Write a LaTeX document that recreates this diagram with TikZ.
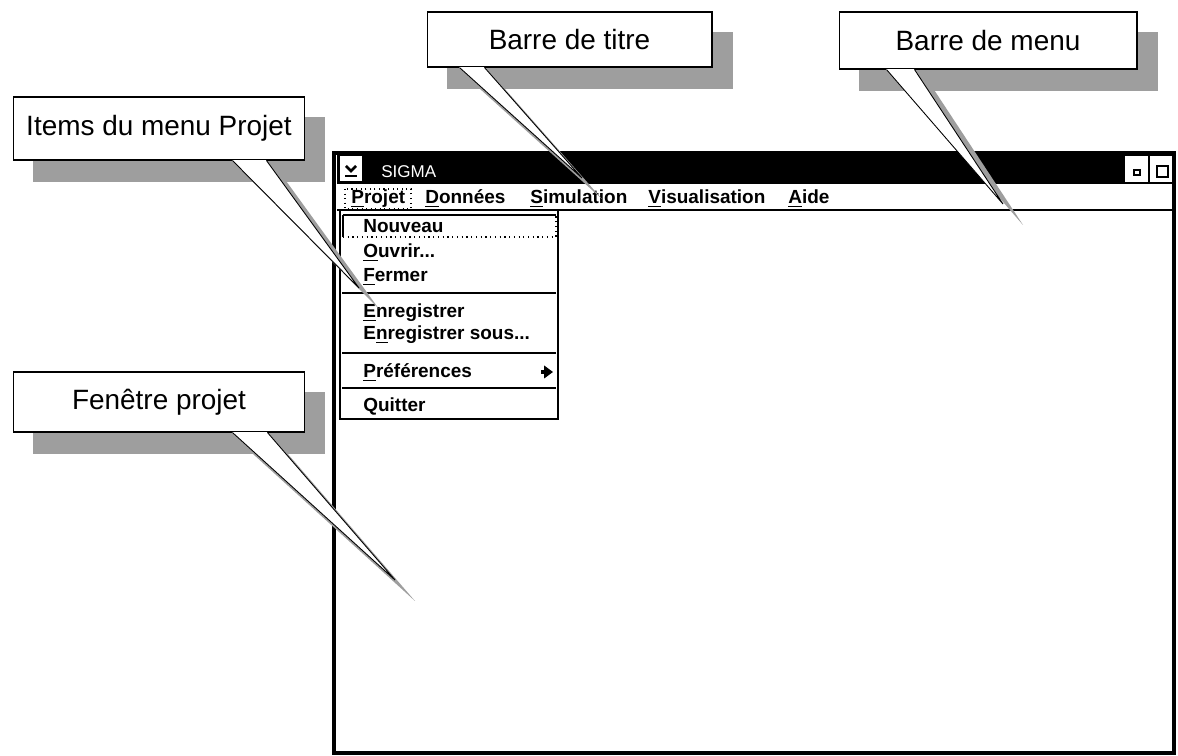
\documentclass[tikz,border=0pt]{standalone}
\usepackage{fontspec}
\setmainfont{Liberation Sans}
\usetikzlibrary{arrows.meta}

\pgfdeclarelayer{shadows}
\pgfdeclarelayer{callouts}
\pgfsetlayers{main,shadows,callouts}

% first letter of a menu entry, underlined as its keyboard shortcut
\newcommand\mn[1]{\underline{#1}}

% callout: name, centre, width, height, left and right foot of the pointer
% (measured from the lower left corner), tip, text
\newcommand\bulle[8]{%
  \begin{pgfonlayer}{callouts}
    \node[calloutbox, minimum width=#3, minimum height=#4] (#1) at #2 {#8};
    \coordinate (#1-tip) at #7;
    \coordinate (#1-l) at ([xshift=#5]#1.south west);
    \coordinate (#1-r) at ([xshift=#6]#1.south west);
    \fill[white] (#1-l) -- (#1-tip) -- (#1-r) -- cycle;
    \draw[white, line width=1pt] (#1-l) -- (#1-r);
    \draw[pointer] (#1-l) -- (#1-tip) -- (#1-r);
  \end{pgfonlayer}
  \begin{pgfonlayer}{shadows}
    \fill[calloutshadow] ([shift={(20,21)}]#1.north west) rectangle ([shift={(20,21)}]#1.south east);
    \fill[calloutshadow] ([shift={(20,21)}]#1-l) -- ([shift={(20,21)}]#1-tip) -- ([shift={(20,21)}]#1-r) -- cycle;
  \end{pgfonlayer}}

\begin{document}
\begin{tikzpicture}[x=0.02cm, y=-0.02cm,
  menuitem/.style={font=\fontsize{10.8}{12}\selectfont\bfseries, inner sep=0pt, anchor=base west},
  calloutbox/.style={draw, line width=0.6pt, fill=white, inner sep=0pt,
                     font=\fontsize{15.9}{18}\selectfont},
  calloutshadow/.style={fill=black!38},
  pointer/.style={line width=0.5pt, line join=miter},
  separator/.style={line width=0.7pt}]

\useasboundingbox (0,0) rectangle (1178,756);

% ---------------- application window ----------------
\draw[line width=0.08cm, fill=white] (334,153) rectangle (1174,753);

% title bar
\fill[black] (337,155) rectangle (1172,183);
% system menu box
\fill[white] (340,156) rectangle (362,181);
\draw[line width=1.6pt] (346,166) -- (351,171) -- (356,166);
\draw[line width=1.2pt] (345,176) -- (357,176);
\node[font=\fontsize{9.7}{11}\selectfont, text=white, anchor=base west, inner sep=0pt] (title) at (381,178) {SIGMA};
% minimise / maximise buttons
\fill[white] (1125,156) rectangle (1172,182);
\draw[line width=1.4pt] (1149,155) -- (1149,183);
\draw[line width=1.4pt] (1134,170) rectangle (1140,175);
\draw[line width=1.4pt] (1157,166) rectangle (1168,177);

% menu bar
\draw[line width=0.9pt] (337,183.5) -- (1172,183.5);
\draw[line width=0.9pt] (337,210) -- (1172,210);
\draw[dotted, line width=0.6pt] (345,189) rectangle (411,209);
\node[menuitem] (mProjet) at (351,204) {\mn{P}rojet};
\node[menuitem] (mDonnees) at (425,204) {\mn{D}onnées};
\node[menuitem] (mSimu) at (530,204) {\mn{S}imulation};
\node[menuitem] (mVisu) at (648,204) {\mn{V}isualisation};
\node[menuitem] (mAide) at (788,204) {\mn{A}ide};

% drop-down menu "Projet"
\draw[line width=1pt, fill=white] (340,210) rectangle (558,419);
\draw[line width=0.9pt] (343,215) -- (556,215);
\draw[line width=0.9pt] (343,215) -- (343,237);
\draw[dotted, line width=0.7pt] (343,237) -- (556,237) -- (556,215);
\node[menuitem] (iNouveau) at (363,233) {Nouveau};
\node[menuitem] (iOuvrir) at (363,258) {\mn{O}uvrir...};
\node[menuitem] (iFermer) at (363,282) {\mn{F}ermer};
\draw[separator] (342,293) -- (556,293);
\node[menuitem] (iEnreg) at (363,318) {\mn{E}nregistrer};
\node[menuitem] (iEnregSous) at (363,340) {E\mn{n}registrer sous...};
\draw[separator] (342,353) -- (556,353);
\node[menuitem] (iPref) at (363,378) {\mn{P}références};
\draw[-{Triangle[length=5pt,width=7pt]}, line width=1.8pt] (541,372) -- (553,372);
\draw[separator] (342,388) -- (556,388);
\node[menuitem] (iQuitter) at (363,412) {\mn{Q}uitter};

% ---------------- callouts ----------------
\bulle{cItems}{(159,128.5)}{5.84cm}{1.26cm}{4.4cm}{5.08cm}{(359,288)}{Items du menu Projet}
\bulle{cTitre}{(569.5,39.5)}{5.7cm}{1.1cm}{0.66cm}{1.16cm}{(582,178)}{Barre de titre}
\bulle{cMenu}{(988,40.5)}{5.96cm}{1.14cm}{0.96cm}{1.52cm}{(1003,204)}{Barre de menu}
\bulle{cFenetre}{(159,402)}{5.84cm}{1.2cm}{4.4cm}{5.1cm}{(395,580)}{Fenêtre projet}

\end{tikzpicture}
\end{document}
